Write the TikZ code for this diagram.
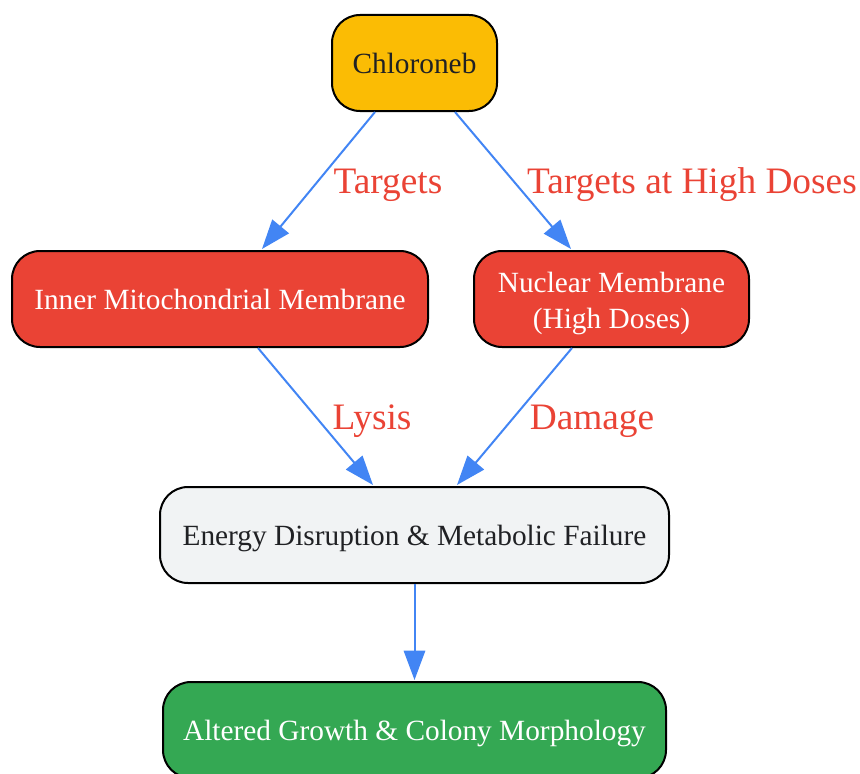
\documentclass[tikz,border=0pt]{standalone}
\usepackage{fontspec}
\setmainfont{Liberation Serif}
\usetikzlibrary{arrows.meta,calc}
\definecolor{cyel}{HTML}{FBBC04}
\definecolor{cred}{HTML}{EA4335}
\definecolor{cgray}{HTML}{F1F3F4}
\definecolor{cgreen}{HTML}{34A853}
\definecolor{cblue}{HTML}{4285F4}
\definecolor{cdark}{HTML}{202124}
\newcommand{\oneline}[1]{\raisebox{-8pt}[0pt][0pt]{#1}}
\newcommand{\twolines}[2]{\raisebox{-22pt}[0pt][0pt]{\vbox{\halign{\hfil##\hfil\cr #1\cr #2\cr}}}}
\tikzset{
  box/.style={draw=black, line width=1.5pt, rounded corners=21pt, minimum height=72pt,
    inner sep=0pt, align=center, font=\fontsize{22}{27}\selectfont},
  edge/.style={draw=cblue, line width=1.5pt, -{Triangle[length=22pt,width=16pt]}},
  elabel/.style={text=cred, font=\fontsize{28}{32}\selectfont, inner sep=0pt}
}
\begin{document}
\begin{tikzpicture}[x=0.75pt,y=-0.75pt]
\useasboundingbox (0,0) rectangle (860,774);
\node[box, fill=cyel, text=cdark, minimum width=123.75pt] (chl) at (414.5,63) {\oneline{Chloroneb}};
\node[box, fill=cred, text=white, minimum width=312pt] (imm) at (220,299) {\oneline{Inner Mitochondrial Membrane}};
\node[box, fill=cred, text=white, minimum width=206.25pt] (nuc) at (611.5,299) {\twolines{Nuclear Membrane}{(High Doses)}};
\node[box, fill=cgray, text=cdark, minimum width=381.75pt] (ene) at (414.5,535) {\oneline{Energy Disruption \& Metabolic Failure}};
\node[box, fill=cgreen, text=white, minimum width=377.25pt] (alt) at (414.5,730) {\oneline{Altered Growth \& Colony Morphology}};

\draw[edge] ($(chl.south)+(-39.5,0)$) -- ($(imm.north)+(42,-1)$);
\draw[edge] ($(chl.south)+(40.5,0)$) -- ($(nuc.north)+(-40.5,-1)$);
\draw[edge] ($(imm.south)+(38,0)$) -- ($(ene.north)+(-41.5,-1)$);
\draw[edge] ($(nuc.south)+(-39.5,0)$) -- ($(ene.north)+(42.5,-1)$);
\draw[edge] (ene.south) -- ($(alt.north)+(0,-1)$);

\node[elabel] (l1) at (388,185) {Targets};
\node[elabel] (l2) at (692,185) {Targets at High Doses};
\node[elabel] (l3) at (372,421) {Lysis};
\node[elabel] (l4) at (592,421) {Damage};
\end{tikzpicture}
\end{document}
